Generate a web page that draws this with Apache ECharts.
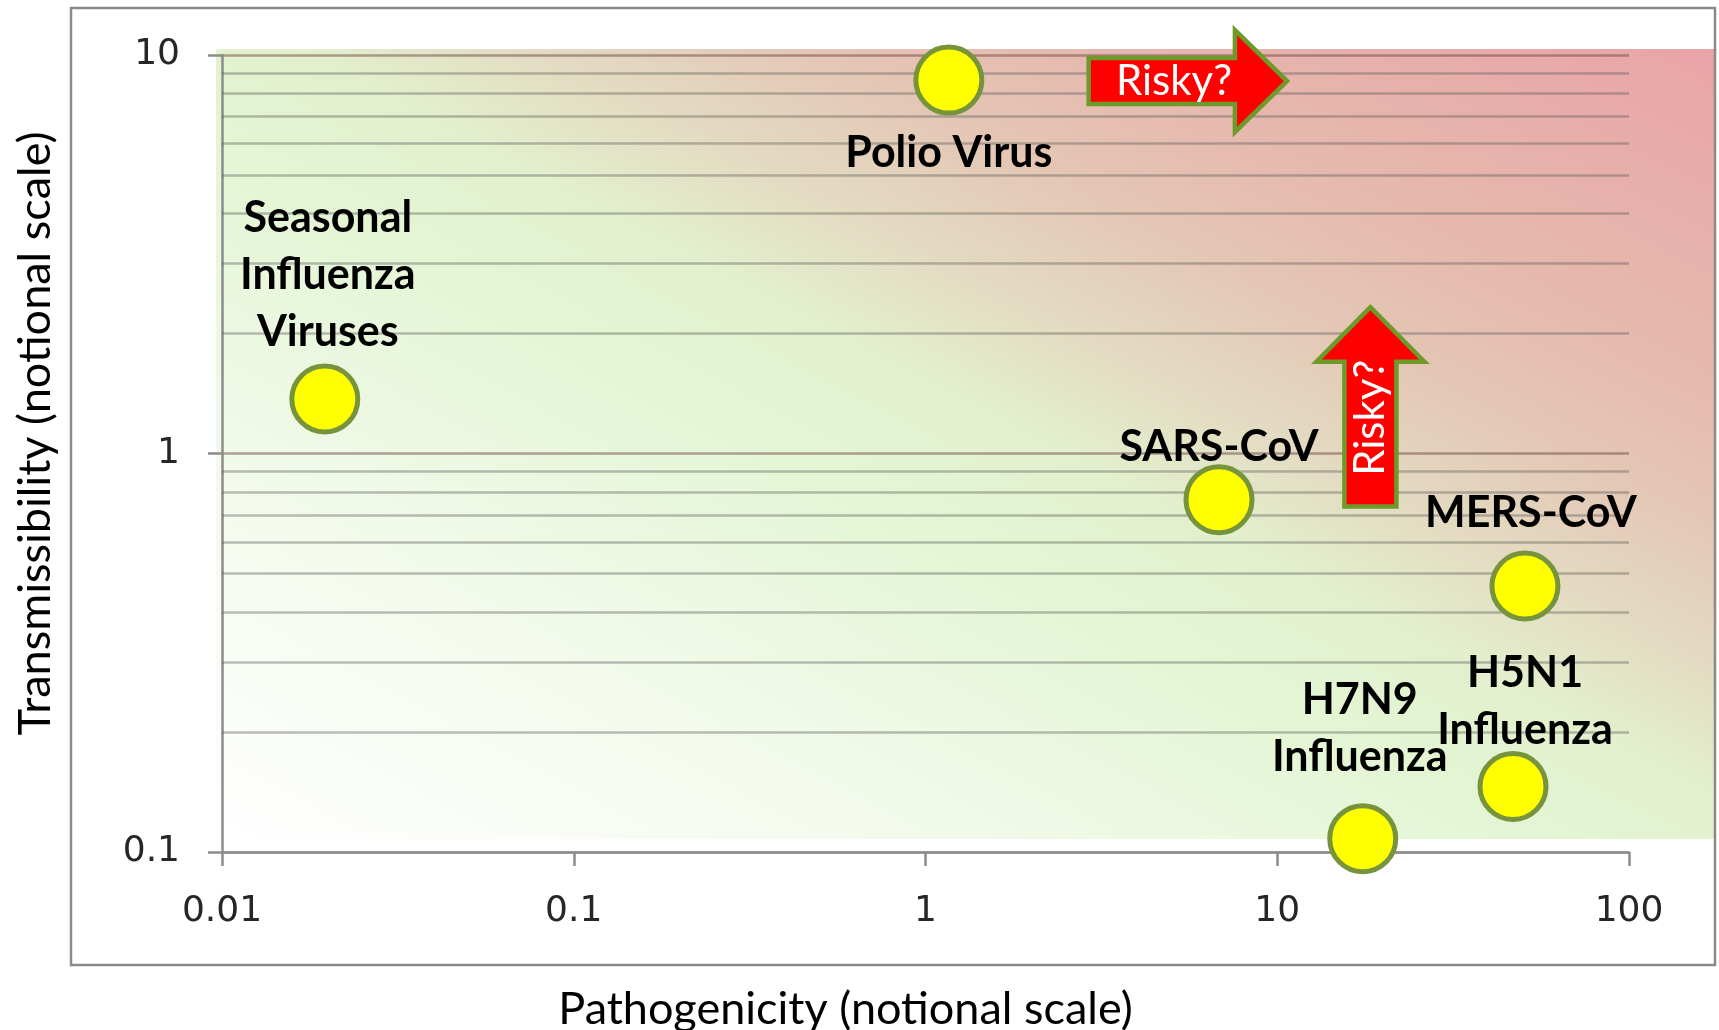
<!DOCTYPE html>
<html>
<head>
<meta charset="utf-8">
<title>Pathogenicity vs Transmissibility</title>
<script src="https://cdn.jsdelivr.net/npm/echarts@6/dist/echarts.min.js"></script>
<style>
  html, body { margin: 0; padding: 0; background: #fff; }
  #main { width: 1719px; height: 1030px; }
</style>
</head>
<body>
<div id="main"></div>
<script>
// virus names (label text) and their notional positions
const virusNames = ['Seasonal\nInfluenza\nViruses', 'Polio Virus', 'SARS-CoV', 'MERS-CoV', 'H5N1\nInfluenza', 'H7N9\nInfluenza'];
const pathogenicity = [0.0196, 1.165, 6.83, 50.6, 46.8, 17.5];
const transmissibility = [1.37, 8.65, 0.766, 0.465, 0.146, 0.108];

// horizontal minor grid lines (1..9 in each decade)
const minorGrid = [0.2, 0.3, 0.4, 0.5, 0.6, 0.7, 0.8, 0.9, 2, 3, 4, 5, 6, 7, 8, 9];

// "Risky?" arrows in data units: tail, head base, tip
const rightArrow = { tail: [2.91, 8.6], headBase: 7.58, tip: 10.66 };
const upArrow = { tail: [18.4, 0.736], headBase: 1.70, tip: 2.33 };

// label placement relative to each circle (px)
const labelShift = [[3, -124], [0, 73], [0, -53], [6, -73], [12, -85], [-3, -110]];

const chart = echarts.init(document.getElementById('main'));

function tickFmt(v) {
  return String(parseFloat(Number(v).toPrecision(3)));
}

const axisCol = '#8c8c8c';

const option = {
  animation: false,
  backgroundColor: '#ffffff',
  grid: { left: 222, right: 90, top: 55, bottom: 178, outerBoundsMode: 'none' },
  xAxis: {
    type: 'log', logBase: 10, min: 0.01, max: 100,
    name: 'Pathogenicity (notional scale)',
    nameLocation: 'middle', nameGap: 135,
    nameTextStyle: { fontFamily: 'Lato', fontSize: 45, color: '#000', padding: [0, 160, 0, 0] },
    axisLine: { show: true, onZero: false, lineStyle: { color: axisCol, width: 2.5 } },
    axisTick: { show: true, length: 14, lineStyle: { color: axisCol, width: 2.5 } },
    axisLabel: { margin: 42, fontFamily: 'DejaVu Sans', fontSize: 36, color: '#262626', formatter: tickFmt },
    splitLine: { show: false }
  },
  yAxis: {
    type: 'log', logBase: 10, min: 0.1, max: 10,
    name: 'Transmissibility (notional scale)',
    nameLocation: 'middle', nameGap: 164,
    nameTextStyle: { fontFamily: 'Lato', fontSize: 45, color: '#000', padding: [0, 0, 0, 40] },
    axisLine: { show: true, onZero: false, lineStyle: { color: axisCol, width: 2.5 } },
    axisTick: { show: true, length: 14, lineStyle: { color: axisCol, width: 2.5 } },
    axisLabel: { margin: 42, fontFamily: 'DejaVu Sans', fontSize: 36, color: '#262626', formatter: tickFmt },
    splitLine: { show: true, lineStyle: { color: 'rgba(110,70,70,0.5)', width: 2.5 } }
  },
  series: [
    {
      // minor grid lines only
      type: 'line',
      data: [],
      z: 1,
      markLine: {
        silent: true,
        animation: false,
        symbol: ['none', 'none'],
        label: { show: false },
        lineStyle: { color: 'rgba(90,90,90,0.4)', width: 2.5, type: 'solid' },
        data: minorGrid.map(v => ({ yAxis: v }))
      }
    },
    {
      type: 'scatter',
      z: 5,
      symbolSize: 66,
      itemStyle: { color: '#FFFF00', borderColor: '#77933C', borderWidth: 5, opacity: 1 },
      label: {
        show: true,
        position: 'inside',
        formatter: p => p.name,
        fontFamily: 'Lato',
        fontWeight: 'bold',
        fontSize: 43,
        lineHeight: 57,
        color: '#000'
      },
      data: pathogenicity.map((x, i) => ({
        name: virusNames[i],
        value: [x, transmissibility[i]],
        label: { offset: labelShift[i] }
      }))
    }
  ]
};

chart.setOption(option);

// decorations: gradient backdrop, outer frame, arrows
function px(pt) {
  return chart.convertToPixel({ gridIndex: 0 }, pt);
}

const rA = px(rightArrow.tail);
const rB = px([rightArrow.headBase, rightArrow.tail[1]]);
const rC = px([rightArrow.tip, rightArrow.tail[1]]);
const bh = 23, hh = 51;
const rightPts = [
  [rA[0], rA[1] - bh], [rB[0], rA[1] - bh], [rB[0], rA[1] - hh], [rC[0], rA[1]],
  [rB[0], rA[1] + hh], [rB[0], rA[1] + bh], [rA[0], rA[1] + bh]
];

const uA = px(upArrow.tail);
const uB = px([upArrow.tail[0], upArrow.headBase]);
const uC = px([upArrow.tail[0], upArrow.tip]);
const bw = 26, hw = 54;
const upPts = [
  [uA[0] - bw, uA[1]], [uA[0] - bw, uB[1]], [uA[0] - hw, uB[1]], [uA[0], uC[1]],
  [uA[0] + hw, uB[1]], [uA[0] + bw, uB[1]], [uA[0] + bw, uA[1]]
];

const arrowStyle = { fill: '#FF0000', stroke: '#6E9A2A', lineWidth: 4.5, lineJoin: 'miter' };
const riskyText = { text: 'Risky?', fill: '#fff', fontFamily: 'Lato', fontSize: 42, align: 'center', verticalAlign: 'middle' };

chart.setOption({
  graphic: [
    {
      type: 'rect', z: -10, silent: true,
      shape: { x: 216, y: 49, width: 1500, height: 790 },
      style: {
        fill: new echarts.graphic.LinearGradient(0, 1, 0.434, -0.566, [
          { offset: 0, color: '#FFFFFF' },
          { offset: 0.2, color: '#F5FBEF' },
          { offset: 0.45, color: '#E3F5D3' },
          { offset: 0.53, color: '#E3EFCD' },
          { offset: 0.61, color: '#E3DAC1' },
          { offset: 0.7, color: '#E4C6B5' },
          { offset: 0.8, color: '#E6B8AD' },
          { offset: 1, color: '#E9A4A7' }
        ])
      }
    },
    {
      type: 'rect', z: 20, silent: true,
      shape: { x: 71, y: 8, width: 1644, height: 957 },
      style: { fill: 'none', stroke: '#8a8a8a', lineWidth: 2.5 }
    },
    { type: 'polygon', z: 20, shape: { points: rightPts }, style: arrowStyle },
    {
      type: 'text', z: 21,
      x: rA[0] + 0.43 * (rC[0] - rA[0]), y: rA[1],
      style: riskyText
    },
    { type: 'polygon', z: 20, shape: { points: upPts }, style: arrowStyle },
    {
      type: 'text', z: 21,
      x: uA[0], y: uA[1] + 0.445 * (uC[1] - uA[1]),
      rotation: Math.PI / 2,
      style: riskyText
    }
  ]
});
</script>
</body>
</html>
